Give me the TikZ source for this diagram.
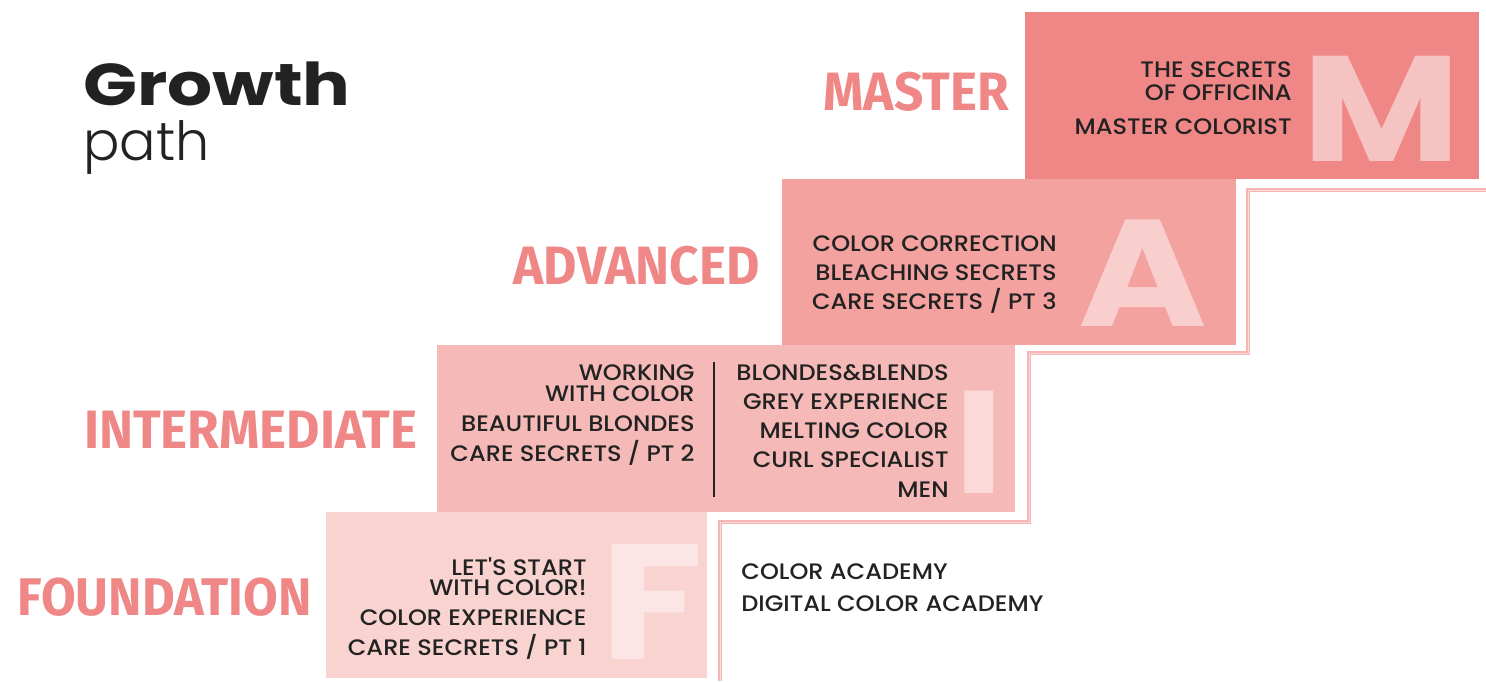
\documentclass[tikz,border=0pt]{standalone}
\usepackage{fontspec}
\setmainfont{Poppins Medium}[FakeStretch=1.075]
\newfontfamily\labelfont[FakeStretch=0.95]{Fira Sans}
\newfontfamily\titlefont[FakeStretch=1.2]{Poppins}
\newfontfamily\thinfont{Poppins Light}
\newfontfamily\bigfont[FakeStretch=1.15]{Poppins}
\usepackage{xcolor}

\definecolor{masterpink}{HTML}{F08787}
\definecolor{advpink}{HTML}{F3A29F}
\definecolor{intpink}{HTML}{F5BAB8}
\definecolor{foundpink}{HTML}{F9D3D0}
\definecolor{lettM}{HTML}{F6C3C3}
\definecolor{lettA}{HTML}{F8CFCD}
\definecolor{lettI}{HTML}{FAD9D8}
\definecolor{lettF}{HTML}{FCE6E5}
\definecolor{stepline}{HTML}{F5B5B5}
\definecolor{inkgrey}{HTML}{222222}

\tikzset{
  course/.style={font=\fontsize{11.2}{14.6}\selectfont, text=inkgrey, inner sep=0pt, align=right, anchor=north east},
  levellabel/.style={font=\labelfont\bfseries\fontsize{27}{27}\selectfont, text=masterpink, inner sep=0pt, anchor=east},
  bigletter/.style={font=\bigfont\bfseries\fontsize{75}{75}\selectfont, inner sep=0pt, anchor=south}
}

\begin{document}
\begin{tikzpicture}[x=0.5pt, y=-0.5pt]
    \useasboundingbox (0,0) rectangle (1486,681);

    % Draw the level boxes
    \fill[foundpink] (326,512) rectangle (707,678);
    \fill[intpink] (437,345) rectangle (1015,512);
    \fill[advpink] (782,179) rectangle (1236,345);
    \fill[masterpink] (1025,12) rectangle (1479,179);

    % Step line
    \draw[stepline, line width=0.7pt, double=lettI, double distance=0.5pt]
        (1486,190) -- (1248,190) -- (1248,353) -- (1029,353) -- (1029,522) -- (720,522) -- (720,681);

    % Big letters
    \node[bigletter, text=lettM] (letM) at (1382,162) {M};
    \node[bigletter, text=lettA, font=\bigfont\bfseries\fontsize{76}{76}\selectfont] (letA) at (1143,327) {A};
    \node[bigletter, text=lettI, font=\bigfont\bfseries\fontsize{73}{73}\selectfont] (letI) at (979,494) {I};
    \node[bigletter, text=lettF, font=\bigfont\bfseries\fontsize{82}{82}\selectfont] (letF) at (652,660) {F};

    % Title
    \node[font=\titlefont\bfseries\fontsize{29.5}{29.5}\selectfont, text=inkgrey, inner sep=0pt, anchor=base west] (growth) at (83,105) {Growth};
    \node[font=\thinfont\fontsize{27}{27}\selectfont, text=inkgrey, inner sep=0pt, anchor=base west] (path) at (83,160) {path};

    % Level names
    \node[levellabel] (master) at (1009,92) {MASTER};
    \node[levellabel] (advanced) at (760,266) {ADVANCED};
    \node[levellabel] (intermediate) at (418,430) {INTERMEDIATE};
    \node[levellabel, font=\labelfont\bfseries\fontsize{26.5}{26.5}\selectfont] (foundation) at (312,597) {FOUNDATION};

    % Courses
    \node[course, font=\fontsize{11.2}{11.5}\selectfont] (mastercourses) at (1292,61)
        {THE SECRETS\\OF OFFICINA\\[5.5pt]MASTER COLORIST};
    \node[course] (advcourses) at (1057,235)
        {COLOR CORRECTION\\BLEACHING SECRETS\\CARE SECRETS / PT 3};
    \node[course, font=\fontsize{11.2}{15}\selectfont] (intleft) at (695,364)
        {WORKING\\[-4.5pt]WITH COLOR\\BEAUTIFUL BLONDES\\CARE SECRETS / PT 2};
    \node[course] (intright) at (949,364)
        {BLONDES\&BLENDS\\GREY EXPERIENCE\\MELTING COLOR\\CURL SPECIALIST\\MEN};
    \node[course, font=\fontsize{11.2}{15}\selectfont] (foundcourses) at (587,557)
        {LET\textquotesingle S START\\[-5pt]WITH COLOR!\\COLOR EXPERIENCE\\CARE SECRETS / PT 1};
    \node[course, align=left, anchor=north west, font=\fontsize{11.2}{16}\selectfont] (academy) at (741,563)
        {COLOR ACADEMY\\DIGITAL COLOR ACADEMY};

    % Divider
    \draw[inkgrey, line width=0.6pt] (714,362) -- (714,497);
\end{tikzpicture}
\end{document}
